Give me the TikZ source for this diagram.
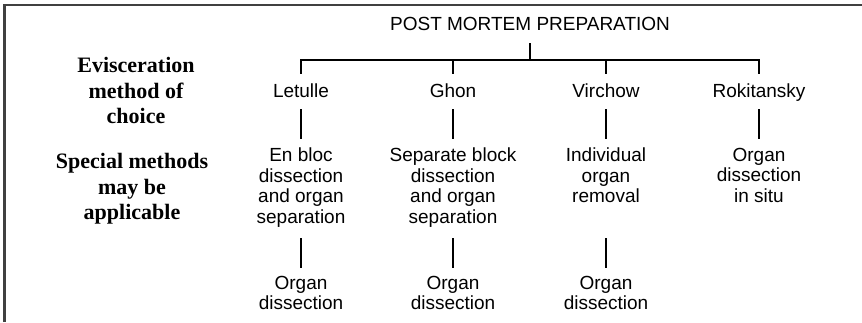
\documentclass[tikz,border=0pt]{standalone}
\usepackage{fontspec}
\setmainfont{Liberation Sans}
\newfontfamily\labelserif{Liberation Serif}
\begin{document}
\begin{tikzpicture}[x=1pt,y=1pt,
  frameline/.style={draw=black!75,line width=2.5pt},
  conn/.style={draw=black,line width=2.5pt},
  methodname/.style={inner sep=0pt,anchor=base,font=\fontsize{19}{20.5}\selectfont,text height=14pt,text depth=4pt},
  textblock/.style={inner sep=0pt,anchor=north,align=center,font=\fontsize{19}{20.5}\selectfont},
  sidelabel/.style={inner sep=0pt,anchor=north,align=center,font=\labelserif\bfseries\fontsize{22}{25.5}\selectfont}]
\useasboundingbox (0,0) rectangle (862,-322);
% frame
\draw[frameline] (4.5,-322) -- (4.5,-5) -- (862,-5);
% title
\node[inner sep=0pt,anchor=base,font=\fontsize{19}{20.5}\selectfont] (title) at (530,-30) {POST MORTEM PREPARATION};
\coordinate (bar) at (530,-60);
% side labels
\node[sidelabel] (evis) at (136,-57.3) {Evisceration\\method of\\choice};
\node[sidelabel] (spec) at (132,-153.3) {Special methods\\may be\\applicable};
% method names
\node[methodname] (n1) at (301,-97) {Letulle};
\node[methodname] (n2) at (453,-97) {Ghon};
\node[methodname] (n3) at (606,-97) {Virchow};
\node[methodname] (n4) at (759,-97) {Rokitansky};
% special methods
\node[textblock] (b1) at (301,-148) {En bloc\\dissection\\and organ\\separation};
\node[textblock] (b2) at (453,-148) {Separate block\\dissection\\and organ\\separation};
\node[textblock] (b3) at (606,-148) {Individual\\organ\\removal};
\node[textblock] (b4) at (759,-148) {Organ\\dissection\\in situ};
% organ dissection
\node[textblock] (o1) at (301,-276) {Organ\\dissection};
\node[textblock] (o2) at (453,-276) {Organ\\dissection};
\node[textblock] (o3) at (606,-276) {Organ\\dissection};
% tree connectors
\draw[conn,shorten <=13pt] (title.base) -- (bar);
\draw[conn,shorten <=9pt,shorten >=9pt] (n1.north) -- (n1.north |- bar) -- (n4.north |- bar) -- (n4.north);
\draw[conn,shorten >=9pt] (n2.north |- bar) -- (n2.north);
\draw[conn,shorten >=9pt] (n3.north |- bar) -- (n3.north);
% upper vertical connectors
\foreach \i in {1,2,3,4}{
  \draw[conn,shorten <=8pt,shorten >=9pt] (n\i.south) -- (b\i.north);
}
% lower vertical connectors
\draw[conn,shorten <=10.5pt,shorten >=8pt] (b1.south) -- (o1.north);
\draw[conn,shorten <=10.5pt,shorten >=8pt] (b2.south) -- (o2.north);
\draw[conn,shorten <=35pt,shorten >=8pt] (b3.south) -- (o3.north);
\end{tikzpicture}
\end{document}
